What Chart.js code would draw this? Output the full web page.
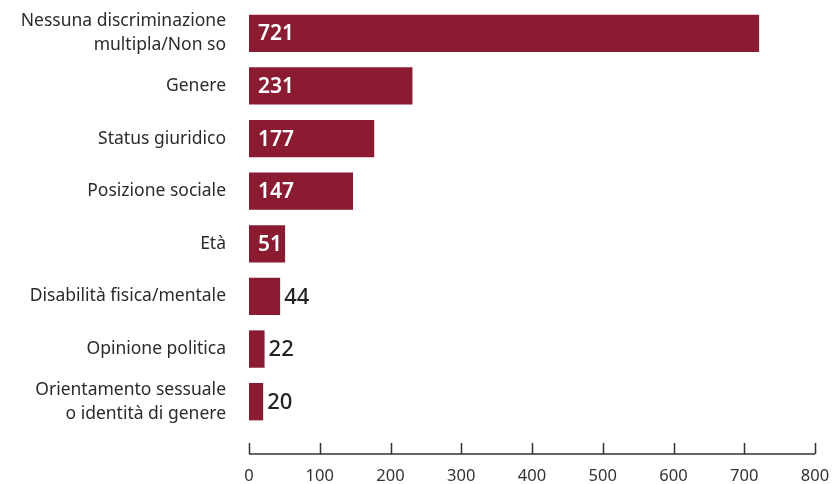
<!DOCTYPE html>
<html>
<head>
<meta charset="utf-8">
<script src="https://cdn.jsdelivr.net/npm/chart.js@4.4.0/dist/chart.umd.min.js"></script>
<style>
  html, body { margin: 0; padding: 0; background: #fff; }
  #wrap { width: 833px; height: 484px; }
</style>
</head>
<body>
<div id="wrap"><canvas id="bars"></canvas></div>
<script>
// Categories and values
const categories = [
  ["Nessuna discriminazione", "multipla/Non so"],
  "Genere",
  "Status giuridico",
  "Posizione sociale",
  "Età",
  "Disabilità fisica/mentale",
  "Opinione politica",
  ["Orientamento sessuale", "o identità di genere"]
];
const counts = [721, 231, 177, 147, 51, 44, 22, 20];
const xTicks = [0, 100, 200, 300, 400, 500, 600, 700, 800];

const barColor = "#8b1b30";
const textColor = "#2b2b2b";
const fontFamily = "'Noto Sans', sans-serif";

// Value labels: inside the bar (white) when big enough, else right of it
const valueLabels = {
  id: "valueLabels",
  afterDatasetsDraw(chart) {
    const ctx = chart.ctx;
    const meta = chart.getDatasetMeta(0);
    ctx.save();
    ctx.textBaseline = "middle";
    ctx.textAlign = "left";
    meta.data.forEach((bar, i) => {
      const v = counts[i];
      if (v >= 50) {
        ctx.font = "600 21px " + fontFamily;
        ctx.fillStyle = "#ffffff";
        ctx.fillText(String(v), bar.base + 9, bar.y + 1);
      } else {
        ctx.font = "500 22px " + fontFamily;
        ctx.fillStyle = "#222";
        ctx.fillText(String(v), bar.x + 4, bar.y + 1);
      }
    });
    ctx.restore();
  }
};

// Bottom axis: line with tick marks pointing up
const bottomAxis = {
  id: "bottomAxis",
  afterDraw(chart) {
    const ctx = chart.ctx;
    const x = chart.scales.x;
    const y = chart.chartArea.bottom + 26;
    ctx.save();
    ctx.strokeStyle = "#333";
    ctx.lineWidth = 1.5;
    ctx.beginPath();
    ctx.moveTo(x.getPixelForValue(xTicks[0]), y);
    ctx.lineTo(x.getPixelForValue(xTicks[xTicks.length - 1]), y);
    xTicks.forEach((t) => {
      const px = Math.round(x.getPixelForValue(t)) + 0.5;
      ctx.moveTo(px, y);
      ctx.lineTo(px, y - 11);
    });
    ctx.stroke();
    ctx.restore();
  }
};

const ctx = document.getElementById("bars").getContext("2d");
const chart = new Chart(ctx, {
  type: "bar",
  data: {
    labels: categories,
    datasets: [
      {
        data: counts,
        backgroundColor: barColor,
        borderWidth: 0,
        barPercentage: 0.71,
        categoryPercentage: 1
      }
    ]
  },
  options: {
    indexAxis: "y",
    responsive: true,
    maintainAspectRatio: false,
    animation: false,
    layout: {
      padding: { top: 7, right: 18, bottom: 0, left: 0 }
    },
    scales: {
      x: {
        min: 0,
        max: 800,
        afterBuildTicks: (scale) => {
          scale.ticks = xTicks.map((v) => ({ value: v }));
        },
        afterFit: (scale) => {
          scale.height = 56;
          scale.paddingLeft = 0;
          scale.paddingRight = 0;
        },
        grid: { display: false, drawTicks: false },
        border: { display: false },
        ticks: {
          padding: 38,
          color: "#333",
          font: { family: fontFamily, size: 16.5 },
          maxRotation: 0,
          autoSkip: false
        }
      },
      y: {
        afterFit: (scale) => {
          scale.width = 249;
          scale.paddingTop = 0;
          scale.paddingBottom = 0;
        },
        grid: { display: false, drawTicks: false },
        border: { display: false },
        ticks: {
          padding: 23,
          autoSkip: false,
          color: textColor,
          font: { family: fontFamily, size: 17.5, lineHeight: 1.37 }
        }
      }
    },
    plugins: {
      legend: { display: false },
      tooltip: { enabled: false }
    }
  },
  plugins: [valueLabels, bottomAxis]
});
</script>
</body>
</html>
